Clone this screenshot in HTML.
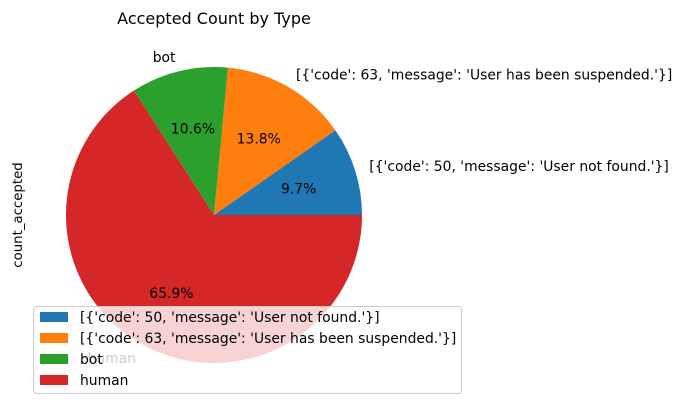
<!DOCTYPE html>
<html><head><meta charset="utf-8"><style>
html,body{margin:0;padding:0;background:#fff;}
svg text{font-family:"DejaVu Sans","Liberation Sans",sans-serif;}
</style></head><body>
<svg id="chart" width="682" height="411" viewBox="0 0 682 411" xmlns="http://www.w3.org/2000/svg">
<text x="214" y="24" font-size="16" text-anchor="middle" fill="#000">Accepted Count by Type</text>
<text transform="translate(22,215) rotate(-90)" font-size="13.3" text-anchor="middle" fill="#000">count_accepted</text>
<g id="slices"></g>
<g id="legend"></g>
</svg>
<script>
const categories = ["[{'code': 50, 'message': 'User not found.'}]", "[{'code': 63, 'message': 'User has been suspended.'}]", "bot", "human"];
const values = [9.7, 13.8, 10.6, 65.9];
const colors = ["#1f77b4", "#ff7f0e", "#2ca02c", "#d62728"];
const NS = "http://www.w3.org/2000/svg";
const cx = 214, cy = 215, r = 148;
const FS = '13.9';
const total = values.reduce((a, b) => a + b, 0);
const g = document.getElementById('slices');
let start = 0;
function pt(a, rr) { return [cx + rr * Math.cos(a), cy - rr * Math.sin(a)]; }
values.forEach((v, i) => {
  const frac = v / total;
  const a0 = start * 2 * Math.PI, a1 = (start + frac) * 2 * Math.PI;
  const p0 = pt(a0, r), p1 = pt(a1, r);
  const large = frac > 0.5 ? 1 : 0;
  const path = document.createElementNS(NS, 'path');
  path.setAttribute('d', `M${cx},${cy} L${p0[0]},${p0[1]} A${r},${r} 0 ${large} 0 ${p1[0]},${p1[1]} Z`);
  path.setAttribute('fill', colors[i]);
  
  
  g.appendChild(path);
  const am = (a0 + a1) / 2;
  const lp = pt(am, r * 1.1);
  const t = document.createElementNS(NS, 'text');
  t.setAttribute('x', lp[0]); t.setAttribute('y', lp[1] + 5);
  t.setAttribute('font-size', FS);
  t.setAttribute('text-anchor', Math.cos(am) >= 0 ? 'start' : 'end');
  t.textContent = categories[i];
  
  
  g.appendChild(t);
  const pp = pt(am, r * 0.6);
  const t2 = document.createElementNS(NS, 'text');
  t2.setAttribute('x', pp[0]); t2.setAttribute('y', pp[1] + 5);
  t2.setAttribute('font-size', FS);
  t2.setAttribute('text-anchor', 'middle');
  t2.textContent = (frac * 100).toFixed(1) + '%';
  
  
  g.appendChild(t2);
  start += frac;
});
const lg = document.getElementById('legend');


const box = document.createElementNS(NS, 'rect');
box.setAttribute('x', 33.5); box.setAttribute('y', 306.5); box.setAttribute('width', 428); box.setAttribute('height', 87); box.setAttribute('rx', 3);
box.setAttribute('fill', 'rgba(255,255,255,0.8)'); box.setAttribute('stroke', '#ccc');
lg.appendChild(box);
categories.forEach((c, i) => {
  const y = 312 + i * 21;
  const sw = document.createElementNS(NS, 'rect');
  sw.setAttribute('x', 40); sw.setAttribute('y', y); sw.setAttribute('width', 28); sw.setAttribute('height', 10);
  sw.setAttribute('fill', colors[i]);
  
  
  lg.appendChild(sw);
  const t = document.createElementNS(NS, 'text');
  t.setAttribute('x', 80); t.setAttribute('y', y + 10);
  t.setAttribute('font-size', FS);
  t.textContent = c;
  
  
  lg.appendChild(t);
});
</script>
</body></html>
